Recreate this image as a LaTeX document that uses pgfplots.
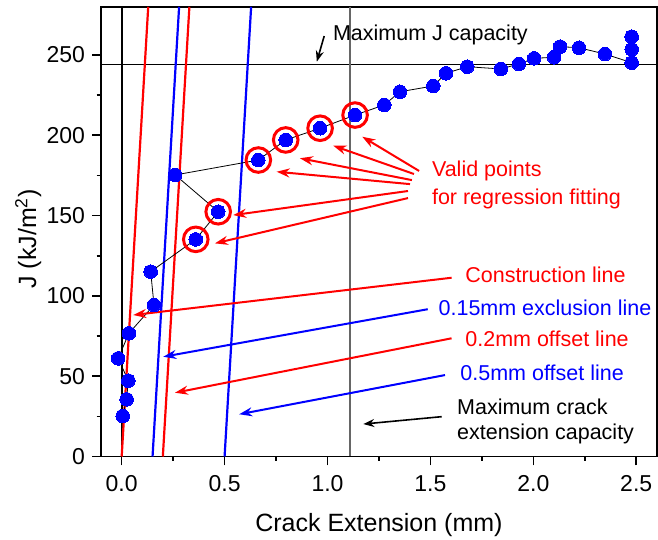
\documentclass[border=0pt]{standalone}
\usepackage{fontspec}
\setmainfont{Liberation Sans}
\usepackage{pgfplots}
\pgfplotsset{compat=1.18}
\usetikzlibrary{arrows.meta}
\definecolor{myred}{RGB}{255,0,0}
\definecolor{myblue}{RGB}{0,0,255}
\newcommand{\annot}{\fontsize{10.75}{12.5}\selectfont}
\begin{document}
\begin{tikzpicture}
\begin{axis}[
  scale only axis, width=277.85pt, height=224.85pt,
  xmin=-0.1, xmax=2.6, ymin=0, ymax=280,
  xtick={0,0.5,1,1.5,2,2.5}, ytick={0,50,100,150,200,250},
  minor x tick num=1, minor y tick num=1,
  xtick pos=lower, ytick pos=left, tick align=outside,
  major tick length=4.5pt, minor tick length=2.25pt,
  every tick/.style={black, line width=0.8pt},
  axis line style={line width=0.85pt},
  /pgf/number format/assume math mode=true,
  ticklabel style={font=\fontsize{11.5}{13}\selectfont},
  xticklabel style={/pgf/number format/.cd, fixed, fixed zerofill, precision=1, /tikz/.cd, yshift=-1.5pt},
  label style={font=\fontsize{12.5}{14}\selectfont},
  xlabel={Crack Extension (mm)},
  ylabel={J (kJ/m\textsuperscript{2})},
  xlabel style={at={(axis description cs:0.5,-0.1672)}, anchor=base},
  ylabel style={at={(axis description cs:-0.131,0.484)}, anchor=center},
]
% reference lines
\addplot[black, line width=0.9pt] coordinates {(0,0) (0,280)};
\addplot[black, line width=0.5pt] coordinates {(-0.1,244) (2.6,244)};
\addplot[black!60, line width=0.7pt] coordinates {(1.11,0) (1.11,280)};
% construction and offset lines
\addplot[myred, line width=1.1pt] coordinates {(0,0) (0.129,280)};
\addplot[myblue, line width=1.1pt] coordinates {(0.15,0) (0.279,280)};
\addplot[myred, line width=1.1pt] coordinates {(0.2,0) (0.329,280)};
\addplot[myblue, line width=1.1pt] coordinates {(0.5,0) (0.629,280)};
% data
\addplot[black, line width=0.4pt, mark=*, mark size=3.4pt,
  mark options={fill=myblue, draw=myblue, line width=0pt}] coordinates {
 (0.005,25.2) (0.024,35.6) (0.032,47.2) (-0.017,61.1) (0.035,76.7)
 (0.157,94.3) (0.141,115.1) (0.360,135.2) (0.469,152.4) (0.260,175.3)
 (0.664,184.6) (0.797,197.1) (0.964,204.4) (1.134,212.6) (1.276,218.9)
 (1.352,227.1) (1.514,230.7) (1.576,238.6) (1.679,242.7) (1.842,241.3)
 (1.930,244.4) (2.004,247.9) (2.101,248.6) (2.130,255.2) (2.222,254.5)
 (2.348,250.6) (2.478,245.2) (2.478,253.5) (2.478,261.4)
};
% valid points rings
\addplot[only marks, mark=o, mark size=6.15pt, mark options={draw=myred, line width=1.5pt}] coordinates {
 (0.360,135.2) (0.469,152.4) (0.664,184.6) (0.797,197.1) (0.964,204.4) (1.134,212.6)
};
% arrows
\begin{scope}[line width=1pt, -{Stealth[length=6.5pt,width=4.5pt]}]
\draw[myred] (axis cs:1.445,177.8) -- (axis cs:1.169,199.1);
\draw[myred] (axis cs:1.420,175.9) -- (axis cs:1.028,193.5);
\draw[myred] (axis cs:1.410,172.1) -- (axis cs:0.866,185.7);
\draw[myred] (axis cs:1.401,169.6) -- (axis cs:0.753,177.3);
\draw[myred] (axis cs:1.391,165.3) -- (axis cs:0.542,150.3);
\draw[myred] (axis cs:1.391,160.9) -- (axis cs:0.453,132.7);
\draw[myred] (axis cs:1.603,111.3) -- (axis cs:0.056,88.1);
\draw[myblue] (axis cs:1.487,91.7) -- (axis cs:0.202,62.1);
\draw[myred] (axis cs:1.603,73.6) -- (axis cs:0.259,39.7);
\draw[myblue] (axis cs:1.571,50.7) -- (axis cs:0.571,26.3);
\end{scope}
\draw[black, line width=0.8pt, -{Stealth[length=5.5pt,width=4pt]}] (axis cs:1.555,24.8) -- (axis cs:1.174,20.2);
\draw[black, line width=0.8pt, -{Stealth[length=5.5pt,width=4pt]}] (axis cs:0.984,261.8) -- (axis cs:0.948,245.8);
% texts
\node[anchor=base west, font=\annot, inner sep=0pt] at (axis cs:1.025,259.3) {Maximum J capacity};
\node[anchor=base west, font=\annot, inner sep=0pt, text=myred] at (axis cs:1.506,174.2) {Valid points};
\node[anchor=base west, font=\annot, inner sep=0pt, text=myred] at (axis cs:1.506,157.2) {for regression fitting};
\node[anchor=base west, font=\annot, inner sep=0pt, text=myred] at (axis cs:1.668,108.5) {Construction line};
\node[anchor=base west, font=\annot, inner sep=0pt, text=myblue] at (axis cs:1.538,88.1) {0.15mm exclusion line};
\node[anchor=base west, font=\annot, inner sep=0pt, text=myred] at (axis cs:1.668,68.4) {0.2mm offset line};
\node[anchor=base west, font=\annot, inner sep=0pt, text=myblue] at (axis cs:1.644,47.6) {0.5mm offset line};
\node[anchor=base west, font=\annot, inner sep=0pt] at (axis cs:1.628,26.3) {Maximum crack};
\node[anchor=base west, font=\annot, inner sep=0pt] at (axis cs:1.628,10.3) {extension capacity};
\end{axis}
\pgfresetboundingbox
\path[use as bounding box] (-50.55pt,-41.75pt) rectangle (278.45pt,228.25pt);
\end{tikzpicture}
\end{document}
